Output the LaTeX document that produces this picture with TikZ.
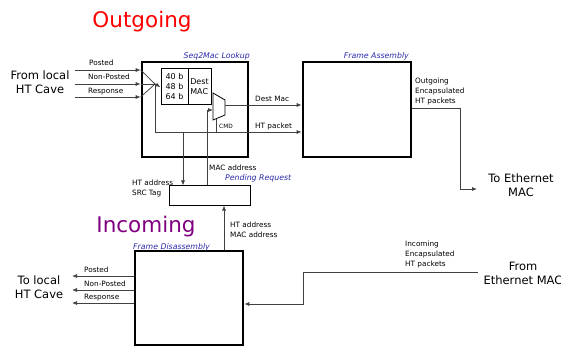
\documentclass[tikz,border=0pt]{standalone}
\usepackage{fontspec}
\setmainfont{DejaVu Sans}
\usetikzlibrary{arrows.meta, calc, positioning}
\definecolor{lblblue}{RGB}{40,40,170}
\definecolor{inpurple}{RGB}{128,0,128}
\tikzset{
  blk/.style  ={draw, line width=2.6pt, inner sep=0pt},
  pend/.style ={draw, line width=1pt, inner sep=0pt},
  cell/.style ={draw, line width=1pt, inner sep=1pt, align=left, font=\fontsize{8}{10}\selectfont},
  sig/.style  ={-{Latex[length=5pt,width=4pt]}, line width=0.75pt, black!75},
  wire/.style ={line width=0.75pt, black!75},
  lbl/.style  ={font=\fontsize{7.3}{10}\selectfont, inner sep=0pt, align=left},
  tiny/.style ={font=\fontsize{5.8}{7}\selectfont, inner sep=0pt},
  blbl/.style ={font=\fontsize{7.8}{9}\selectfont\itshape, text=lblblue, inner sep=0pt},
  port/.style ={font=\fontsize{11.5}{14}\selectfont, align=center, inner sep=0pt},
  ttl/.style  ={font=\fontsize{21.5}{25}\selectfont, inner sep=0pt},
}
\begin{document}
\begin{tikzpicture}[x=1pt,y=-1pt]
  \useasboundingbox (0,0) rectangle (561,347);
  % titles
  \node[ttl, text=red] (tout) at (142,22) {Outgoing};
  \node[ttl, text=inpurple] (tin) at (146,227) {Incoming};

  % blocks
  \node[blk, minimum width=106, minimum height=95] (s2m) at (195,109.5) {};
  \node[blbl, anchor=base east] (s2mlbl) at (250,59) {Seq2Mac Lookup};
  \node[blk, minimum width=108, minimum height=95] (fa) at (357,109.5) {};
  \node[blbl, anchor=base east] (falbl) at (409,59) {Frame Assembly};
  \node[pend, minimum width=81, minimum height=19] (pr) at (209.5,195.5) {};
  \node[blbl, anchor=base west] (prlbl) at (225,181) {Pending Request};
  \node[blk, minimum width=108, minimum height=94] (fd) at (189,298) {};
  \node[blbl, anchor=base west] (fdlbl) at (133,249) {Frame Disassembly};

  % lookup table + mux
  \node[cell, minimum width=27, minimum height=36] (tl) at (174.5,87) {40 b\\48 b\\64 b};
  \node[cell, minimum width=23, minimum height=36] (tr) at (199.5,87) {Dest\\MAC};
  \draw[line width=0.8pt] (213,93) -- (225,100) -- (225,115) -- (213,120) -- cycle;
  \coordinate (muxin) at (213,110);
  \coordinate (muxout) at (225,105);
  \coordinate (muxsel) at (216,118.7);

  % ports
  \node[port] (fromht) at (40,82) {From local\\HT Cave};
  \node[port] (toht) at (39,287) {To local\\HT Cave};
  \node[port] (toeth) at (521,185) {To Ethernet\\MAC};
  \node[port] (frometh) at (523,273) {From\\Ethernet MAC};

  % outgoing inputs
  \coordinate (pin) at (75,70); \coordinate (npin) at (75,84); \coordinate (rin) at (75,97);
  \coordinate (fan) at (155,84);
  \draw[sig] (pin) -- (pin-|s2m.west); \draw[sig] (npin) -- (npin-|s2m.west); \draw[sig] (rin) -- (rin-|s2m.west);
  \draw[wire] (pin-|s2m.west) -- (fan); \draw[wire] (npin-|s2m.west) -- (fan); \draw[wire] (rin-|s2m.west) -- (fan);
  \draw[sig] (fan) -- (tl.west);
  \node[lbl, anchor=base west] (lp) at (89,66) {Posted};
  \node[lbl, anchor=base west] (lnp) at (88,80) {Non-Posted};
  \node[lbl, anchor=base west] (lr) at (88,94) {Response};

  % lookup -> assembly
  \coordinate (htp) at (155,132);
  \draw[sig] (fan) -- (htp) -- (htp-|fa.west);
  \draw[sig] (muxout) -- (muxout-|fa.west);
  \draw[wire] (muxsel) -- (muxsel|-htp);
  \node[lbl, anchor=base west] (ldm) at (255,102) {Dest Mac};
  \node[lbl, anchor=base west] (lhtp) at (255,129) {HT packet};
  \node[tiny, anchor=base west] (lcmd) at (219,129) {CMD};

  % pending request
  \coordinate (hta) at (183,132);
  \coordinate (macb) at (207,110);
  \draw[sig] (hta) -- (hta|-pr.north);
  \draw[sig] (macb|-pr.north) -- (macb) -- (muxin);
  \node[lbl, anchor=west] (lhta) at (132,188) {HT address\\SRC Tag};
  \node[lbl, anchor=west] (lmac) at (209,168) {MAC address};

  % assembly -> ethernet
  \coordinate (oo) at (460,108); \coordinate (oend) at (477,189);
  \draw[sig] (fa.east|-oo) -- (oo) -- (oo|-oend) -- (oend);
  \node[lbl, anchor=west] (lout) at (415,91) {Outgoing\\Encapsulated\\HT packets};

  % ethernet -> disassembly
  \coordinate (iin) at (478,272); \coordinate (ibend) at (303,272); \coordinate (ilow) at (303,304);
  \draw[sig] (iin) -- (ibend) -- (ilow) -- (ilow-|fd.east);
  \node[lbl, anchor=west] (lin) at (405,254) {Incoming\\Encapsulated\\HT packets};

  % disassembly -> pending, local
  \coordinate (hmx) at (224,251);
  \draw[sig] (hmx|-fd.north) -- (hmx|-pr.south);
  \node[lbl, anchor=west] (lhm) at (230,230) {HT address\\MAC address};
  \coordinate (po) at (72,276); \coordinate (npo) at (72,290); \coordinate (ro) at (72,303);
  \draw[sig] (po-|fd.west) -- (po); \draw[sig] (npo-|fd.west) -- (npo); \draw[sig] (ro-|fd.west) -- (ro);
  \node[lbl, anchor=base west] (op) at (84,272) {Posted};
  \node[lbl, anchor=base west] (onp) at (84,286) {Non-Posted};
  \node[lbl, anchor=base west] (or) at (84,299) {Response};
\end{tikzpicture}
\end{document}
